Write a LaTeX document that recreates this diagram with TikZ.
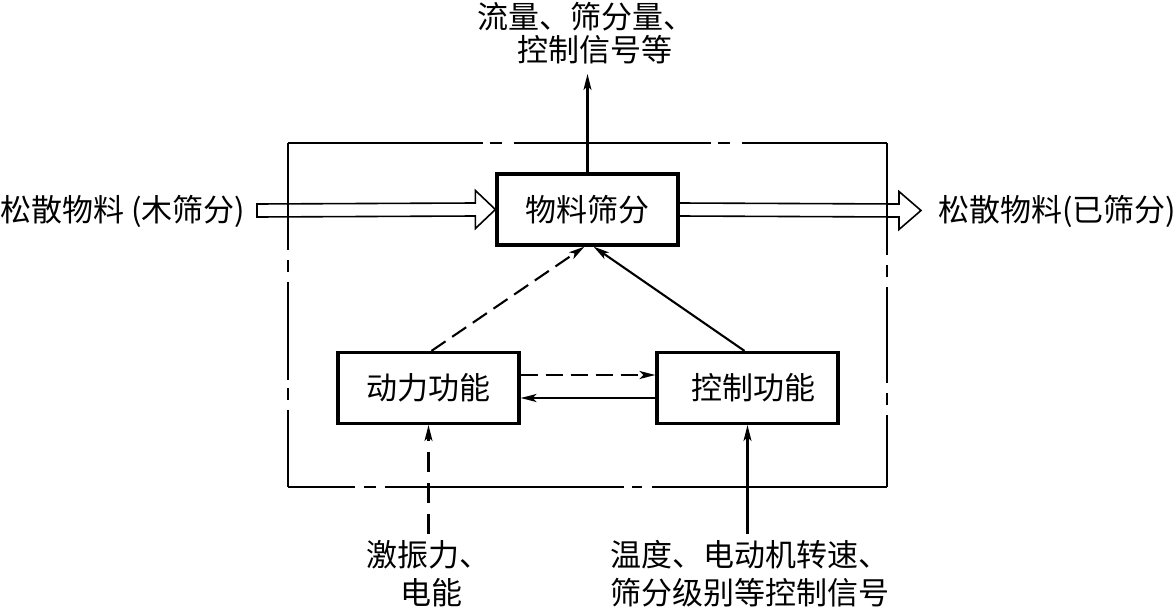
\documentclass[tikz,border=0pt]{standalone}
\usepackage{fontspec}
\setmainfont{Noto Sans CJK SC}
\usetikzlibrary{arrows.meta,calc}
\begin{document}
\begin{tikzpicture}[x=1pt,y=-1pt,
  txt/.style={font=\fontsize{31}{37}\selectfont, inner sep=0pt},
  box/.style={draw, line width=3.2pt, minimum width=181pt, minimum height=71pt, inner sep=0pt, font=\fontsize{31}{37}\selectfont},
  conn/.style={line width=2.1pt, -{Stealth[length=16pt,width=8pt,inset=4pt]}},
  dsh/.style={dash pattern=on 17pt off 8pt},
  frame/.style={line width=2.5pt},
  dbl/.style={line width=1.6pt, line join=miter}
]
\useasboundingbox (0,0) rectangle (1176,613);

% boxes
\node[box] (sc) at (587.5,209.5) {物料筛分};
\node[box] (dl) at (428.5,388) {动力功能};
\node[box] (ck) at (747.5,388) {\hspace*{12pt}控制功能};

% outer dash-dot frame
\draw[frame] (288,143) -- (483,143) (490,143) -- (502,143) (514,143) -- (711,143) (718,143) -- (730,143) (742,143) -- (887,143);
\draw[frame] (288,487) -- (355,487) (364,487) -- (376,487) (385,487) -- (624,487) (632,487) -- (642,487) (652,487) -- (887,487);
\draw[frame] (288,143) -- (288,250) (288,260) -- (288,272) (288,282) -- (288,380) (288,388) -- (288,400) (288,410) -- (288,487);
\draw[frame] (887,143) -- (887,255) (887,265) -- (887,277) (887,287) -- (887,383) (887,393) -- (887,405) (887,415) -- (887,487);

% labels
\node[txt] (top1) at (586,17) {流量、筛分量、};
\node[txt] (top2) at (595,50) {控制信号等};
\node[txt, anchor=west] (inL) at (0,211) {松散物料 (木筛分)};
\node[txt, anchor=west] (outL) at (938,211) {松散物料(已筛分)};
\node[txt, anchor=west] (b1) at (366,555) {激振力、};
\node[txt] (b2) at (431,593) {电能};
\node[txt, anchor=west] (c1) at (610,555) {温度、电动机转速、};
\node[txt, anchor=west] (c2) at (610,593) {筛分级别等控制信号};

% coordinates
\coordinate (outA) at (587.5,74);
\coordinate (inS) at (257,210.5);
\coordinate (outT) at (921,210.5);
\coordinate (in1) at (428.5,534);
\coordinate (in2) at (747.5,534);

% output signal arrow
\draw[conn] (sc.north) -- (outA);

% double (material) arrows
\draw[dbl] ([yshift=6.5pt]inS) -- ([xshift=-20pt,yshift=6.5pt]sc.west) -- ([xshift=-20pt,yshift=19pt]sc.west) -- (sc.west)
  -- ([xshift=-20pt,yshift=-19pt]sc.west) -- ([xshift=-20pt,yshift=-6.5pt]sc.west) -- ([yshift=-6.5pt]inS) -- cycle;
\draw[dbl] ([yshift=6.5pt]sc.east) -- ([xshift=-22pt,yshift=6.5pt]outT) -- ([xshift=-22pt,yshift=19pt]outT) -- (outT)
  -- ([xshift=-22pt,yshift=-19pt]outT) -- ([xshift=-22pt,yshift=-6.5pt]outT) -- ([yshift=-6.5pt]sc.east);

% internal connectors
\draw[conn, dsh] ([xshift=3pt]dl.north) -- ([xshift=-3pt]sc.south);
\draw[conn] ([xshift=-3pt]ck.north) -- ([xshift=6pt]sc.south);
\draw[conn, dsh] ([yshift=13pt]dl.east) -- ([yshift=13pt]ck.west);
\draw[conn] ([yshift=-10pt]ck.west) -- ([yshift=-10pt]dl.east);

% inputs from below
\draw[conn, dash pattern=on 20pt off 11pt] (in1) -- (dl.south);
\draw[conn] (in2) -- (ck.south);
\end{tikzpicture}
\end{document}
